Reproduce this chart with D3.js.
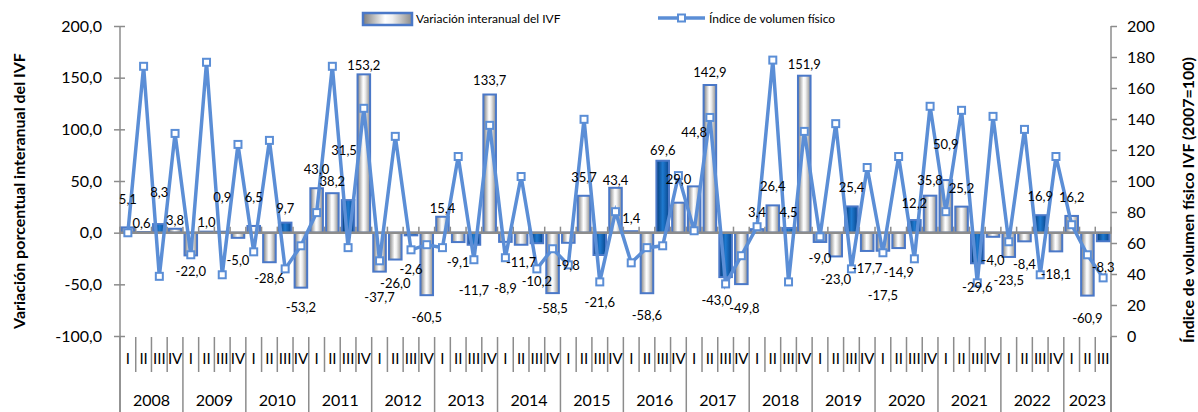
<!DOCTYPE html>
<html>
<head>
<meta charset="utf-8">
<script src="https://cdn.jsdelivr.net/npm/d3@7"></script>
<style>
  body { margin: 0; background: #fff; }
  text { font-family: Lato, "Open Sans", sans-serif; fill: #000; }
</style>
</head>
<body>
<svg id="chart" width="1198" height="412"></svg>
<script>
// years and quarter names (2023 only up to III)
var years = [2008, 2009, 2010, 2011, 2012, 2013, 2014, 2015, 2016, 2017, 2018, 2019, 2020, 2021, 2022, 2023];
var quarters = ["I", "II", "III", "IV"];

// variación interanual del IVF (%)
var variacion = [5.1, 0.6, 8.3, 3.8, -22.0, 1.0, 0.9, -5.0, 6.5, -28.6, 9.7, -53.2,
  43.0, 38.2, 31.5, 153.2, -37.7, -26.0, -2.6, -60.5, 15.4, -9.1, -11.7, 133.7,
  -8.9, -11.7, -10.2, -58.5, -9.8, 35.7, -21.6, 43.4, 1.4, -58.6, 69.6, 29.0,
  44.8, 142.9, -43.0, -49.8, 3.4, 26.4, 4.5, 151.9, -9.0, -23.0, 25.4, -17.7,
  -17.5, -14.9, 12.2, 35.8, 50.9, 25.2, -29.6, -4.0, -23.5, -8.4, 16.9, -18.1,
  16.2, -60.9, -8.3];

// índice de volumen físico (2007=100)
var indice = [66.6, 174.0, 38.5, 130.7, 52.4, 176.6, 39.5, 123.6, 54.3, 126.2, 43.3, 58.2,
  79.6, 174.0, 57.0, 146.9, 48.5, 128.8, 55.6, 58.9, 57.0, 115.8, 49.2, 135.9,
  50.5, 102.9, 43.3, 56.3, 45.9, 139.8, 34.9, 80.2, 47.2, 57.0, 58.2, 103.5,
  67.9, 141.0, 33.6, 51.8, 70.5, 178.0, 34.9, 132.0, 64.0, 137.0, 43.3, 108.7,
  53.7, 115.8, 49.8, 148.2, 80.2, 145.6, 34.3, 141.7, 60.8, 133.3, 39.5, 115.8,
  71.8, 52.4, 37.5];

// extra distance (px) of each data label away from its bar end
var labelNudge = [12, -7, 16, -7, -6, -6, 19, 0, 13, -6, -1, -3, 3, -4, 34, -7,
  3, 1, 12, 0, -7, -2, 23, -1, 24, -5, 16, -7, 0, 3, 25, -8, -3, 0, -5, 8,
  38, -3, 1, 2, 1, 3, 0, -4, -6, 1, 3, -5, 22, 2, 1, 0, 20, 3, 2, 1,
  1, 1, 3, 1, 3, 0, 4];
// sideways shift (px) of a few labels
var labelShiftX = {1: -2, 14: -4, 38: -9, 39: 3};

var n = variacion.length;
var svg = d3.select("#chart");
var plotLeft = 120, plotRight = 1111, plotTop = 26, plotBottom = 336;

var locale = d3.formatLocale({decimal: ",", thousands: ".", grouping: [3], currency: ["", ""], minus: "-"});
var fmt1 = locale.format(".1f");

var x = d3.scaleBand().domain(d3.range(n)).range([plotLeft, plotRight]).padding(0);
var yL = d3.scaleLinear().domain([-100, 200]).range([plotBottom, plotTop]);
var yR = d3.scaleLinear().domain([0, 200]).range([plotBottom, plotTop]);
var lineColor = "#5b8ed6";
var axisColor = "#8c8c8c";

// gradients
var defs = svg.append("defs");
var g1 = defs.append("linearGradient").attr("id", "grayGrad").attr("x1", 0).attr("x2", 1).attr("y1", 0).attr("y2", 0);
g1.append("stop").attr("offset", "0%").attr("stop-color", "#7d7d7d");
g1.append("stop").attr("offset", "45%").attr("stop-color", "#ffffff");
g1.append("stop").attr("offset", "60%").attr("stop-color", "#f0f0f0");
g1.append("stop").attr("offset", "100%").attr("stop-color", "#8a8a8a");
var g2 = defs.append("linearGradient").attr("id", "blueGrad").attr("x1", 0).attr("x2", 1).attr("y1", 0).attr("y2", 0);
g2.append("stop").attr("offset", "0%").attr("stop-color", "#063a76");
g2.append("stop").attr("offset", "50%").attr("stop-color", "#1f7ad0");
g2.append("stop").attr("offset", "100%").attr("stop-color", "#08458c");

// left axis
var axL = svg.append("g").attr("transform", "translate(" + plotLeft + ",0)")
  .call(d3.axisLeft(yL).tickValues(d3.range(-100, 201, 50)).tickFormat(fmt1).tickSize(6).tickPadding(12));
axL.select(".domain").remove();
axL.selectAll(".tick line").attr("x1", 5).attr("x2", -6).attr("stroke", axisColor).attr("stroke-width", 1.5);
axL.selectAll(".tick text").style("font-size", "16px").style("font-family", "Lato, sans-serif").attr("fill", "#000");

// right axis
var axR = svg.append("g").attr("transform", "translate(" + plotRight + ",0)")
  .call(d3.axisRight(yR).tickValues(d3.range(0, 201, 20)).tickSize(6).tickPadding(10));
axR.select(".domain").remove();
axR.selectAll(".tick line").attr("stroke", axisColor).attr("stroke-width", 1.5);
axR.selectAll(".tick text").style("font-size", "16px").style("font-family", "Lato, sans-serif").attr("fill", "#000");

// vertical frame lines
svg.append("line").attr("x1", plotLeft).attr("x2", plotLeft).attr("y1", plotTop).attr("y2", 412)
  .attr("stroke", axisColor).attr("stroke-width", 1.5);
svg.append("line").attr("x1", plotRight).attr("x2", plotRight).attr("y1", plotTop).attr("y2", 412)
  .attr("stroke", axisColor).attr("stroke-width", 1.5);

// bars
var bw = x.bandwidth() * 0.8;
svg.append("g").selectAll("rect").data(variacion).enter().append("rect")
  .attr("x", function(d, i) { return x(i) + (x.bandwidth() - bw) / 2; })
  .attr("y", function(d) { return yL(Math.max(0, d)); })
  .attr("width", bw)
  .attr("height", function(d) { return Math.abs(yL(d) - yL(0)); })
  .attr("fill", function(d, i) { return i % 4 === 2 ? "url(#blueGrad)" : "url(#grayGrad)"; })
  .attr("stroke", "#4a78c8").attr("stroke-width", 2);

// zero line with small ticks
var y0 = yL(0);
svg.append("line").attr("x1", plotLeft).attr("x2", plotRight).attr("y1", y0).attr("y2", y0)
  .attr("stroke", axisColor).attr("stroke-width", 2.5);
svg.append("g").selectAll("line").data(d3.range(n + 1)).enter().append("line")
  .attr("x1", function(i) { return plotLeft + i * x.step(); })
  .attr("x2", function(i) { return plotLeft + i * x.step(); })
  .attr("y1", y0 - 6).attr("y2", y0 + 1)
  .attr("stroke", axisColor).attr("stroke-width", 1.5);

// line series
var line = d3.line().x(function(d, i) { return x(i) + x.bandwidth() / 2; }).y(function(d) { return yR(d); });
svg.append("path").datum(indice).attr("d", line)
  .attr("fill", "none").attr("stroke", lineColor).attr("stroke-width", 3.5).attr("stroke-linejoin", "miter");
svg.append("g").selectAll("rect").data(indice).enter().append("rect")
  .attr("x", function(d, i) { return x(i) + x.bandwidth() / 2 - 3.5; })
  .attr("y", function(d) { return yR(d) - 3.5; })
  .attr("width", 7).attr("height", 7)
  .attr("fill", "#fff").attr("stroke", lineColor).attr("stroke-width", 2);

// data labels
svg.append("g").selectAll("text").data(variacion).enter().append("text")
  .attr("x", function(d, i) { return x(i) + x.bandwidth() / 2 + (labelShiftX[i] || 0); })
  .attr("y", function(d, i) {
    return d >= 0 ? yL(d) - 16 - labelNudge[i] : yL(d) + 22 + labelNudge[i];
  })
  .attr("text-anchor", "middle").attr("dominant-baseline", "central")
  .style("font-size", "13px")
  .text(function(d) { return fmt1(d); });

// category axis at the bottom
var bAxis = svg.append("g");
bAxis.selectAll("line").data(d3.range(n + 1)).enter().append("line")
  .attr("x1", function(i) { return plotLeft + i * x.step(); })
  .attr("x2", function(i) { return plotLeft + i * x.step(); })
  .attr("y1", plotBottom + 1)
  .attr("y2", function(i) { return (i % 4 === 0 || i === n) ? 412 : 372; })
  .attr("stroke", axisColor).attr("stroke-width", 1.5);
bAxis.selectAll("text.q").data(d3.range(n)).enter().append("text")
  .attr("class", "q")
  .attr("x", function(i) { return x(i) + x.bandwidth() / 2; })
  .attr("y", 358).attr("text-anchor", "middle").attr("dominant-baseline", "central")
  .style("font-size", "15px")
  .text(function(i) { return quarters[i % 4]; });
bAxis.selectAll("text.y").data(years).enter().append("text")
  .attr("class", "y")
  .attr("x", function(d, k) {
    var a = plotLeft + k * 4 * x.step();
    var b = plotLeft + Math.min(n, (k + 1) * 4) * x.step();
    return (a + b) / 2;
  })
  .attr("y", 399).attr("text-anchor", "middle").attr("dominant-baseline", "central")
  .style("font-size", "16px")
  .text(function(d) { return d; });

// axis titles
svg.append("text").attr("transform", "translate(18,191) rotate(-90)")
  .attr("text-anchor", "middle").attr("dominant-baseline", "central")
  .style("font-size", "16px").style("font-weight", "bold")
  .text("Variación porcentual interanual del IVF");
svg.append("text").attr("transform", "translate(1187,200) rotate(-90)")
  .attr("text-anchor", "middle").attr("dominant-baseline", "central")
  .style("font-size", "16px").style("font-weight", "bold")
  .text("Índice de volumen físico IVF (2007=100)");

// legend
var leg = svg.append("g");
leg.append("rect").attr("x", 363).attr("y", 13).attr("width", 49).attr("height", 12)
  .attr("fill", "url(#grayGrad)").attr("stroke", "#4a78c8").attr("stroke-width", 2.5);
leg.append("text").attr("x", 416).attr("y", 18).attr("dominant-baseline", "central")
  .style("font-size", "12px").text("Variación interanual del IVF");
leg.append("line").attr("x1", 658).attr("x2", 705).attr("y1", 18).attr("y2", 18)
  .attr("stroke", lineColor).attr("stroke-width", 3.5);
leg.append("rect").attr("x", 678).attr("y", 14.5).attr("width", 7).attr("height", 7)
  .attr("fill", "#fff").attr("stroke", lineColor).attr("stroke-width", 2);
leg.append("text").attr("x", 709).attr("y", 18).attr("dominant-baseline", "central")
  .style("font-size", "12px").text("Índice de volumen físico");
</script>
</body>
</html>
